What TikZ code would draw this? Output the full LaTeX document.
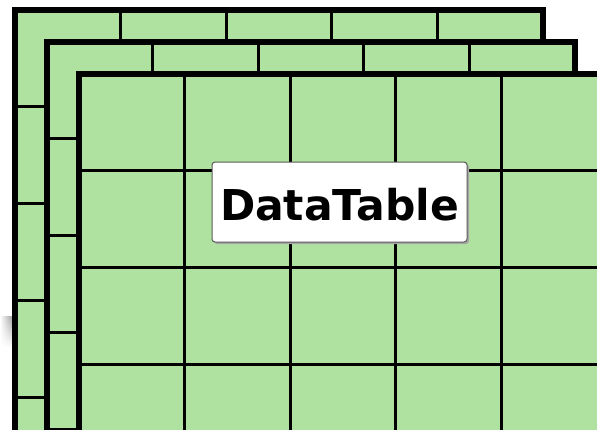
\documentclass[tikz,border=0pt]{standalone}
\usepackage{fontspec}
\newfontfamily\labelfont{DejaVu Sans}
\usetikzlibrary{shadows,fadings}
\definecolor{cellgreen}{RGB}{175,226,160}
\tikzset{
  gridline/.style={line width=3pt, black},
  gridborder/.style={line width=6pt, black, line join=miter},
  labelbox/.style={draw=gray!70!black, fill=white, rounded corners=3pt, line width=1pt,
    minimum width=255pt, minimum height=80pt, inner sep=0pt,
    text height=37pt, text depth=0pt,
    font=\labelfont\bfseries\fontsize{42.5}{42.5}\selectfont,
    drop shadow={shadow xshift=2pt, shadow yshift=-2pt, fill=gray!70, opacity=1}}
}
\begin{document}
\begin{tikzpicture}[x=1pt,y=-1pt]
\useasboundingbox (0,0) rectangle (597,429);
\clip (0,0) rectangle (597,429);
\shade[top color=gray!80, bottom color=white, path fading=west] (0,316) rectangle (13,347);
\foreach \o in {0,32,64} {
  \fill[cellgreen] ({15+\o},{10+\o}) rectangle ({543+\o},520);
  \foreach \i in {1,...,4}
    \draw[gridline] ({15+\o+\i*105.6},{10+\o}) -- ({15+\o+\i*105.6},520);
  \foreach \j in {1,...,5}
    \draw[gridline] ({15+\o},{10+\o+\j*96.8}) -- ({543+\o},{10+\o+\j*96.8});
  \draw[gridborder] ({15+\o},520) -- ({15+\o},{10+\o}) -- ({543+\o},{10+\o}) -- ({543+\o},520);
}
\node[labelbox] (label) at (339.5,202) {DataTable};
\end{tikzpicture}
\end{document}
